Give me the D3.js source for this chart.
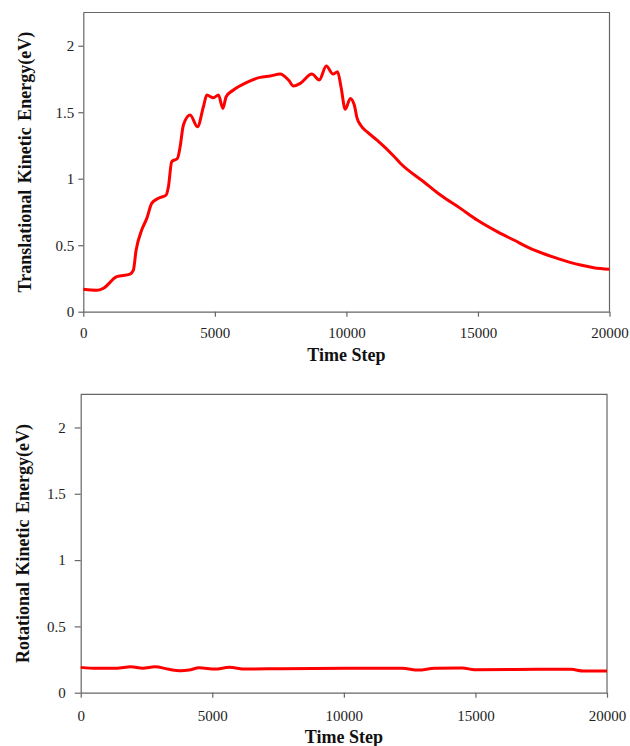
<!DOCTYPE html>
<html>
<head>
<meta charset="utf-8">
<script src="https://cdn.jsdelivr.net/npm/d3@7"></script>
<style>
  body { margin: 0; background: #fff; }
  svg { display: block; font-family: "Liberation Serif", "Times New Roman", serif; }
</style>
</head>
<body>
<div id="container"></div>
<script>
// time steps and energies
const transSteps = [0, 510, 760, 1270, 1777, 1900, 2005, 2220, 2410, 2600, 2855, 3145, 3235, 3360, 3580, 3680, 3805, 4060, 4340, 4565, 4695, 4946, 5137, 5304, 5430, 5707, 6217, 6723, 7104, 7484, 7800, 7990, 8245, 8690, 8968, 9235, 9490, 9665, 9794, 9957, 10148, 10300, 10400, 10550, 10800, 11164, 11796, 12050, 12937, 13572, 14333, 14969, 15730, 16362, 17122, 18012, 18899, 19405, 20000];
const transEnergy = [0.168, 0.161, 0.176, 0.263, 0.283, 0.31, 0.46, 0.614, 0.70, 0.815, 0.853, 0.877, 0.94, 1.128, 1.153, 1.24, 1.404, 1.479, 1.391, 1.541, 1.629, 1.609, 1.629, 1.529, 1.617, 1.667, 1.725, 1.762, 1.772, 1.787, 1.742, 1.697, 1.717, 1.787, 1.742, 1.847, 1.787, 1.805, 1.692, 1.522, 1.604, 1.554, 1.46, 1.40, 1.35, 1.29, 1.171, 1.116, 0.977, 0.877, 0.777, 0.689, 0.602, 0.539, 0.464, 0.401, 0.351, 0.331, 0.319];

const rotSteps = [0, 600, 1370, 1900, 2360, 2820, 3355, 3810, 4115, 4500, 5110, 5645, 6255, 7630, 10080, 12220, 12830, 13440, 14510, 14970, 17570, 18640, 19100, 20000];
const rotEnergy = [0.191, 0.184, 0.184, 0.196, 0.184, 0.196, 0.176, 0.166, 0.171, 0.188, 0.178, 0.191, 0.178, 0.181, 0.184, 0.184, 0.171, 0.184, 0.186, 0.173, 0.176, 0.176, 0.163, 0.163];

const xTicks = [0, 5000, 10000, 15000, 20000];
const yTicks = [0, 0.5, 1, 1.5, 2];

const width = 630;
const height = 746;

const svg = d3.select("#container").append("svg")
    .attr("width", width)
    .attr("height", height)
    .attr("viewBox", [0, 0, width, height]);

function drawPanel(steps, energy, box, yTitle) {
    const x = d3.scaleLinear().domain([0, 20000]).range([box.left, box.right]);
    const y = d3.scaleLinear().domain([0, 2.25]).range([box.bottom, box.top]);
    const data = steps.map((s, i) => [s, energy[i]]);

    // frame top + right
    svg.append("path")
        .attr("d", `M${box.left},${box.top}H${box.right}V${box.bottom}`)
        .attr("fill", "none")
        .attr("stroke", "#666")
        .attr("stroke-width", 1.2);

    const styleAxis = g => {
        g.attr("font-family", null).attr("font-size", null);
        g.select(".domain").attr("stroke", "#666").attr("stroke-width", 1.2);
        g.selectAll(".tick line").attr("stroke", "#666").attr("stroke-width", 1.2);
        g.selectAll("text").attr("font-size", 15).attr("fill", "#222");
    };

    svg.append("g")
        .attr("transform", `translate(0,${box.bottom})`)
        .call(d3.axisBottom(x).tickValues(xTicks).tickFormat(d3.format("d")).tickSize(5).tickPadding(box.xPad).tickSizeOuter(0))
        .call(styleAxis);

    svg.append("g")
        .attr("transform", `translate(${box.left},0)`)
        .call(d3.axisLeft(y).tickValues(yTicks).tickFormat(d3.format("")).tickSize(box.yTick).tickPadding(box.yPad).tickSizeOuter(0))
        .call(styleAxis);

    svg.append("path")
        .datum(data)
        .attr("fill", "none")
        .attr("stroke", "#ff0000")
        .attr("stroke-width", 3)
        .attr("stroke-linejoin", "round")
        .attr("d", d3.line().x(d => x(d[0])).y(d => y(d[1])).curve(d3.curveMonotoneX));

    svg.append("text")
        .attr("x", (box.left + box.right) / 2)
        .attr("y", box.titleY)
        .attr("text-anchor", "middle")
        .attr("font-size", 18)
        .attr("font-weight", "bold")
        .attr("fill", "#111")
        .text("Time Step");

    svg.append("text")
        .attr("transform", `translate(${box.left - 52},${(box.top + box.bottom) / 2}) rotate(-90)`)
        .attr("text-anchor", "middle")
        .attr("font-size", 18)
        .attr("font-weight", "bold")
        .attr("fill", "#111")
        .attr("word-spacing", 2)
        .text(yTitle);
}

drawPanel(transSteps, transEnergy,
    {left: 83.3, right: 609.5, top: 12.5, bottom: 311.7, xPad: 10.5, yTick: 5, yPad: 4, titleY: 361},
    "Translational Kinetic Energy(eV)");

drawPanel(rotSteps, rotEnergy,
    {left: 80.7, right: 607, top: 394.3, bottom: 692.7, xPad: 12.5, yTick: 6, yPad: 9, titleY: 743},
    "Rotational Kinetic Energy(eV)");
</script>
</body>
</html>
